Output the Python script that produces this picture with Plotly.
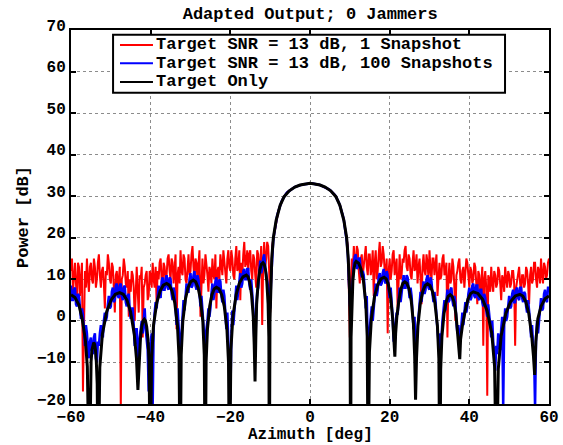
import numpy as np
import plotly.graph_objects as go

# Azimuth sample grid for the noisy adapted-output curves (deg)
azimuth = np.linspace(-60, 60, 481)

# Adapted output, target SNR = 13 dB, 1 snapshot (dB), 0.25 deg steps
snr13_1snap_db = [
    12, 15, 7, 11, 14, 9, 4, 14, 13, 6, 9, 14, -17, 5, 12, 8, 15, 10, 7, 13,
    14, 10, 9, 15, 13, 8, 10, 14, 16, 11, 8, 12, 13, 9, 3, 12, 11, 16, 14, 10,
    9, 14, 13, 8, 2, 11, 12, 7, 10, 13, -21, 10, 11, 15, 13, 9, 8, 12, 1, 10,
    7, 12, 11, 8, 0, 10, 13, 7, 2, 11, 10, 13, -4, 8, 9, 11, 12, 5, 6, 12,
    11, 8, 14, 10, 8, 13, 4, 12, 10, 14, 15, 10, 9, 14, 13, 9, 11, 15, 16, 12,
    10, 15, 14, 9, 12, 16, -2, 11, 13, 9, 17, 12, 11, 16, 15, 10, 9, 14, 16, 11,
    12, 16, 18, 13, 10, 15, 14, 10, 13, 17, 1, 12, 15, 9, 11, 16, 14, 11, 7, 13,
    12, 9, 15, 11, 10, 16, 3, 12, 13, 10, 16, 13, 11, 17, 14, 10, 9, 15, 17, 13,
    12, 17, 15, 11, 10, 15, 18, 12, 13, 17, 5, 14, 11, 16, 19, 13, 14, 17, 12, 16,
    17, 12, 10, 16, 15, 11, 8, 17, 16, 12, 13, 18, -1, 14, 19, 13, 15, 19, 18, 12,
    2, 10, 18, 19.5, 21, 22.8, 24.2, 25.3, 26.2, 27.1,
    27.8, 28.4, 29.0, 29.5, 29.9, 30.3, 30.6, 30.9, 31.1, 31.3,
    31.5, 31.65, 31.8, 31.95, 32.1, 32.25, 32.35, 32.45, 32.5, 32.6,
    32.7, 32.75, 32.8, 32.85, 32.9, 32.95, 33.0, 33.03, 33.05, 33.08,
    33.1, 33.08, 33.05, 33.03, 33.0, 32.95, 32.9, 32.85, 32.8, 32.75,
    32.7, 32.6, 32.5, 32.45, 32.35, 32.25, 32.1, 31.95, 31.8, 31.65,
    31.5, 31.3, 31.1, 30.9, 30.6, 30.3, 29.9, 29.5, 29.0, 28.4,
    27.8, 27.1, 26.2, 25.3, 24.2, 22.8, 21, 19.5, 18, 8,
    -4, 9, 15, 12, 18, 14, 13, 18, 17, 12, 9, 15, 16, 11, 14, 17, 18, 13, 11, 16,
    16, 11, 13, 17, 6, 14, 17, 10, 12, 16, 19, 13, 14, 18, 16, 12, 11, 15, -3, 12,
    15, 10, 12, 16, 17, 11, 13, 15, 3, 12, 16, 10, 11, 15, 14, 17, 18, 13, 12, 16,
    15, 11, 10, 14, 17, 12, 13, 16, 9, 13, 15, 10, 4, 13, 16, 12, 11, 16, 14, 10,
    17, 12, 10, 15, 15, 11, 13, 16, 6, 12, 14, 10, 11, 15, 16, 11, 12, 14, -4, 10,
    14, 9, 10, 15, 13, 8, 0, 11, 12, 14, 15, 10, 9, 12, 13, 8, 11, 15, 14, 10,
    8, 13, 12, 9, 10, 14, 13, 9, 4, 12, 11, 7, 9, 13, -6, 10, 12, 8, -18, 11,
    10, 7, 13, 9, 7, 12, 11, 8, 9, 13, 12, 9, 5, 11, 10, 7, 13, 10, 8, 12,
    11, 8, 9, 12, 12, 9, -6, 8, 10, 12, 13, 9, 7, 11, 11, 8, 9, 13, 12, 9,
    4, 11, 13, 9, 10, 14, 14, 10, 8, 13, 12, 9, 15, 11, 9, 14, 13, 10, 11, 14,
    15,
]

# Adapted output, target SNR = 13 dB, 100 snapshots (dB), 0.25 deg steps
snr13_100snap_db = [
    8.5, 5, 5, 7.5, 8, 4, 3.5, 6.5, 6, 2, 0.5, 3, 1.5, -2, -6, -1, -3, -7, -9, -5,
    -4, -7, -8, -4, -3, -9, -10, -5, -6, -3, -1, -3, -4, 0, 2, 0, 1, 4, 6, 3,
    3.5, 7, 8, 4.5, 5, 8.5, 9, 6, 5.5, 8.5, 9, 6, 5, 8, 8.5, 4.5, 3.5, 6, 6.5, 2.5,
    0.5, 3, 3, -1, -6, -2, -2, -7, -10, -4, -2, 0, -3, 1, 3, -2, -4, -7, -17, -6,
    -5, -3, -21, -2, 2, 4.5, 3, 7, 8.5, 6, 5.5, 9.5, 10.5, 7.5, 7.5, 10, 11, 8, 7.5, 10.5,
    10, 6.5, 5, 8, 7, 3, -1, 3, -2, -5, -9, -3, 1.5, 5, 2.5, 6, 9, 7, 7, 10,
    11.5, 8, 8.5, 11, 12, 8.5, 7.5, 11, 10, 6.5, 3.5, 6, 3, -1, -6, -3, -2, 0, 3, 1,
    3, 6.5, 9, 5, 6.5, 9.5, 10.5, 7, 7, 10, 9.5, 6, 4.5, 7.5, 6, 2, -2, 2, -5, -9,
    -19, -4, 2.5, -1, 2, 6, 8.5, 5, 7, 10, 11.5, 8, 9, 12, 12.5, 10, 10, 12.5, 12.5, 9,
    7.5, 10, 7, 3, -4, -7, 3, 7, 8, 12, 14.5, 11.5, 12.5, 15, 16, 13, 11.5, 10, 8, 4,
    3, 10, 16, 19, 21, 22.8, 24.2, 25.3, 26.2, 27.1,
    27.8, 28.4, 29.0, 29.5, 29.9, 30.3, 30.6, 30.9, 31.1, 31.3,
    31.5, 31.65, 31.8, 31.95, 32.1, 32.25, 32.35, 32.45, 32.5, 32.6,
    32.7, 32.75, 32.8, 32.85, 32.9, 32.95, 33.0, 33.03, 33.05, 33.08,
    33.1, 33.08, 33.05, 33.03, 33.0, 32.95, 32.9, 32.85, 32.8, 32.75,
    32.7, 32.6, 32.5, 32.45, 32.35, 32.25, 32.1, 31.95, 31.8, 31.65,
    31.5, 31.3, 31.1, 30.9, 30.6, 30.3, 29.9, 29.5, 29.0, 28.4,
    27.8, 27.1, 26.2, 25.3, 24.2, 22.8, 21, 19, 16, 9,
    4, 2, 7, 12, 14, 15.5, 16, 12.5, 13, 15, 15, 11.5, 10.5, 12, 11, 7, 3, 6, -6, -2,
    -2, 1, 3.5, 0, 3, 7, 9, 6, 7.5, 10.5, 11.5, 8.5, 9, 11.5, 12.5, 9.5, 9, 12, 11, 7.5,
    5.5, 8, 5, 1, -5, -2, -1, 2, 1.5, 5, 8, 4.5, 7, 10, 11, 8, 8, 11, 10.5, 8,
    5.5, 8, 6, 2, -2, 1, -12, -5, -2, 1, 4.5, 7, 4.5, 7.5, 9.5, 6.5, 7.5, 10, 11, 8,
    7.5, 10.5, 9.5, 6.5, 4.5, 7, 5, 1, -2, -4, -8, -3, -4, 0, 2.5, 5, 2.5, 5.5, 7.5, 4.5,
    5, 7.5, 8, 5, 3.5, 6, 4.5, 0, -3, -1, -6, -4, -1, 2, -1, 3, 4.5, 2, 3.5, 6.5,
    8, 5, 5.5, 8.5, 9, 6, 5.5, 8.5, 8.5, 5.5, 5, 7.5, 7.5, 4.5, 3.5, 6.5, 5.5, 2.5, 1, 4,
    2, -1, -4, 0, -5, -9, -12, -6, -8, -3, -5, -7, -2, 1, -21, -1, 3, 0, 1, 4.5,
    6, 3, 3.5, 6.5, 7.5, 4.5, 4.5, 7.5, 8, 5.5, 5, 8, 8, 5.5, 4.5, 7, 6.5, 3.5, 2, 5,
    3, 0, -4, -1, -6, -8, -21, -4, 0, -3, 0, 3.5, 5.5, 2.5, 3, 6.5, 7.5, 5, 4.5, 8,
    8,
]

# Target-only pattern: (azimuth deg, power dB) along each lobe and null
target_only = [
    (-60, 6.3), (-59, 5.6), (-58, 3.8), (-57.2, 0.5), (-56.4, -4.5), (-55.9, -11), (-55.4, -40),
    (-55.18, -15.2), (-54.96, -9.8), (-54.74, -7.0), (-54.52, -5.6), (-54.3, -5.2),
    (-54.08, -5.6), (-53.86, -7.0), (-53.64, -9.8), (-53.42, -15.2), (-53.2, -40),
    (-52.77, -11.2), (-52.12, -3.2), (-51.04, 2.2), (-49.96, 5.0), (-48.88, 6.4), (-47.8, 6.8),
    (-46.88, 6.4), (-45.96, 5.0), (-45.04, 2.2), (-44.12, -3.2), (-43.57, -9), (-43.2, -16.6),
    (-42.88, -8), (-42.56, -4.2), (-42.24, -1.4), (-41.92, 0.0), (-41.6, 0.4),
    (-41.3, 0.0), (-41.0, -1.4), (-40.7, -4.2), (-40.4, -9.6), (-40.22, -17.6), (-40.1, -40),
    (-39.77, -9), (-39.28, -1), (-38.46, 4.4), (-37.64, 7.2), (-36.82, 8.6), (-36.0, 9.0),
    (-35.32, 8.6), (-34.64, 7.2), (-33.96, 4.4), (-33.28, -1.0), (-32.87, -9), (-32.6, -40),
    (-32.34, -8.2), (-31.94, -0.2), (-31.28, 5.2), (-30.62, 8.0), (-29.96, 9.4), (-29.3, 9.8),
    (-28.7, 9.4), (-28.1, 8.0), (-27.5, 5.2), (-26.9, -0.2), (-26.54, -8.2), (-26.3, -40),
    (-26.08, -9.9), (-25.74, -1.9), (-25.18, 3.5), (-24.62, 6.3), (-24.06, 7.7), (-23.5, 8.1),
    (-22.84, 7.7), (-22.18, 6.3), (-21.52, 3.5), (-20.86, -1.9), (-20.46, -9.9), (-20.2, -40),
    (-19.86, -7), (-19.36, 1.0), (-18.52, 6.4), (-17.68, 9.2), (-16.84, 10.6), (-16.0, 11.0),
    (-15.56, 10.6), (-15.12, 9.2), (-14.68, 6.4), (-14.24, 1.0), (-14.0, -6), (-13.8, -14.6),
    (-13.6, -4), (-13.4, 4.0), (-13.0, 9.4), (-12.6, 12.2), (-12.2, 13.6), (-11.8, 14.0),
    (-11.48, 13.6), (-11.16, 12.2), (-10.84, 9.4), (-10.52, 4.0), (-10.33, -4), (-10.2, -40),
    (-10.05, 0), (-9.9, 8), (-9.6, 15), (-9.2, 20), (-8.5, 24.2), (-7.5, 27.8), (-6.5, 29.9),
    (-5.2, 31.3), (-3.8, 32.2), (-2.5, 32.7), (-1.2, 32.95), (0, 33.1),
    (1.2, 32.95), (2.5, 32.7), (3.8, 32.2), (5.2, 31.3), (6.5, 29.9), (7.5, 27.8),
    (8.5, 24.2), (9.2, 20), (9.6, 15), (9.9, 8), (10.05, 0), (10.2, -40),
    (10.31, -4), (10.48, 4.3), (10.76, 9.7), (11.04, 12.5), (11.32, 13.9), (11.6, 14.3),
    (12.2, 13.9), (12.8, 12.5), (13.4, 9.7), (14.0, 4.3), (14.36, -3.7), (14.6, -40),
    (14.92, -7.5), (15.4, 0.5), (16.2, 5.9), (17.0, 8.7), (17.8, 10.1), (18.6, 10.5),
    (19.14, 10.1), (19.68, 8.7), (20.22, 5.9), (20.76, 0.5), (21.08, -4.5), (21.3, -8.6),
    (21.5, -3), (21.8, 1.0), (22.3, 4.8), (22.8, 7.6), (23.3, 9.0), (23.8, 9.4),
    (24.34, 9.0), (24.88, 7.6), (25.42, 4.8), (25.96, -0.6), (26.28, -8.6), (26.5, -19),
    (26.74, -9), (27.1, -1.1), (27.7, 4.3), (28.3, 7.1), (28.9, 8.5), (29.5, 8.9),
    (30.12, 8.5), (30.74, 7.1), (31.36, 4.3), (31.98, -1.1), (32.35, -9.1), (32.6, -40),
    (32.81, -11.7), (33.12, -3.7), (33.64, 1.7), (34.16, 4.5), (34.68, 5.9), (35.2, 6.3),
    (35.68, 5.9), (36.16, 4.5), (36.64, 1.7), (37.12, -3.7), (37.4, -6.5), (37.6, -9.2),
    (37.8, -4.5), (38.28, -1.0), (38.96, 2.4), (39.64, 5.2), (40.32, 6.6), (41.0, 7.0),
    (42.16, 6.6), (43.32, 5.2), (44.48, 2.4), (45.64, -3.0), (46.34, -11), (46.8, -40),
    (47.27, -11.6), (47.98, -3.6), (49.16, 1.8), (50.34, 4.6), (51.52, 6.0), (52.7, 6.4),
    (53.44, 6.0), (54.18, 4.6), (54.92, 1.8), (55.66, -3.6), (56.1, -8.5), (56.4, -13),
    (56.7, -5), (57.2, 0.5), (58.0, 3.5), (59.0, 5.3), (60, 6.0),
]
target_az = [p[0] for p in target_only]
target_db = [p[1] for p in target_only]

series_names = [
    "Target SNR = 13 dB, 1 Snapshot",
    "Target SNR = 13 dB, 100 Snapshots",
    "Target Only",
]
series_colors = ["#ff0000", "#0000ff", "#000000"]

FONT = "Liberation Mono, Courier New, monospace"
TEXT_FONT = dict(family=FONT, size=17, color="black", weight="bold")
TICK_FONT = dict(family=FONT, size=16, color="black", weight="bold")
XTITLE_FONT = dict(family=FONT, size=16, color="black", weight="bold")

fig = go.Figure()
fig.add_trace(go.Scatter(x=azimuth, y=snr13_1snap_db, mode="lines",
                         line=dict(color=series_colors[0], width=2),
                         name=series_names[0], showlegend=False))
fig.add_trace(go.Scatter(x=azimuth, y=snr13_100snap_db, mode="lines",
                         line=dict(color=series_colors[1], width=2.5),
                         name=series_names[1], showlegend=False))
fig.add_trace(go.Scatter(x=target_az, y=target_db, mode="lines",
                         line=dict(color=series_colors[2], width=3),
                         name=series_names[2], showlegend=False))

axis_common = dict(
    showline=True, linecolor="black", linewidth=2, mirror="ticks",
    ticks="inside", ticklen=5, tickwidth=1.5, tickcolor="black",
    showgrid=True, gridcolor="#8c8c8c", griddash="dot", gridwidth=1,
    zeroline=False, automargin=False,
    tickfont=TICK_FONT,
)

fig.update_xaxes(range=[-60, 60], dtick=20, tick0=-60, ticklabelstandoff=-3,
                 **axis_common)
fig.update_yaxes(range=[-20, 70], dtick=10, tick0=-20, ticklabelshift=-5,
                 title=dict(text="Power [dB]", standoff=4, font=TEXT_FONT),
                 **axis_common)

# Boxed legend in the upper part of the axes
leg_x0, leg_x1 = 0.088, 0.908
leg_y0, leg_y1 = 0.832, 0.987
row_y = [0.960, 0.911, 0.861]
shapes = [dict(type="rect", xref="paper", yref="paper",
               x0=leg_x0, x1=leg_x1, y0=leg_y0, y1=leg_y1,
               line=dict(color="black", width=2), fillcolor="white", layer="above")]
annotations = []
for name, color, yy in zip(series_names, series_colors, row_y):
    shapes.append(dict(type="line", xref="paper", yref="paper",
                       x0=0.1025, x1=0.1715, y0=yy, y1=yy,
                       line=dict(color=color, width=2), layer="above"))
    annotations.append(dict(text=name, xref="paper", yref="paper",
                            x=0.1745, y=yy, xanchor="left", yanchor="middle",
                            showarrow=False, font=TEXT_FONT))

# x-axis title, at the bottom edge under the tick labels
annotations.append(dict(text="Azimuth [deg]", xref="paper", yref="paper",
                        x=0.5, y=-0.1096, xanchor="center", yanchor="bottom",
                        showarrow=False, borderpad=0, font=XTITLE_FONT))

fig.update_layout(
    width=563, height=445,
    margin=dict(l=71, r=14, t=30, b=41),
    paper_bgcolor="white", plot_bgcolor="white",
    title=dict(text="Adapted Output; 0 Jammers", x=0.551, xanchor="center",
               y=0.971, yanchor="middle", yref="container",
               font=TEXT_FONT),
    shapes=shapes, annotations=annotations,
    showlegend=False,
)

fig.write_html("out.html")
